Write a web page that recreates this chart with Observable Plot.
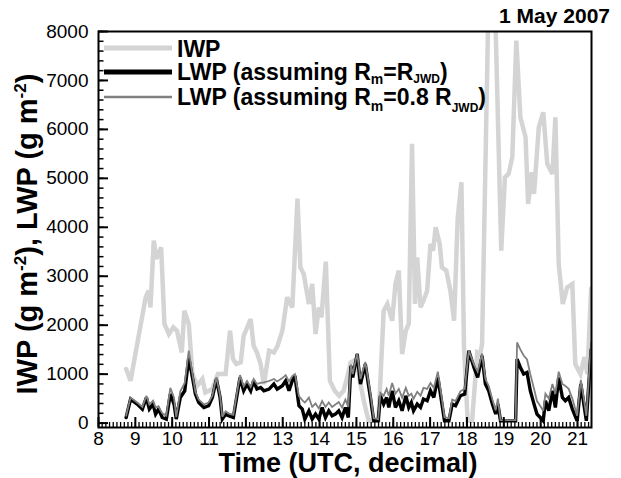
<!DOCTYPE html>
<html>
<head>
<meta charset="utf-8">
<script src="https://cdn.jsdelivr.net/npm/d3@7"></script>
<script src="https://cdn.jsdelivr.net/npm/@observablehq/plot@0.6"></script>
<style>
  html, body { margin: 0; padding: 0; background: #fff; }
  #chart { width: 621px; height: 478px; }
</style>
</head>
<body>
<div id="chart"></div>
<script>
// ---- data ----
const iwpTime = [8.75, 8.87, 9.28, 9.36, 9.41, 9.50, 9.57, 9.70, 9.79, 9.91, 10.03, 10.13, 10.26, 10.33, 10.45, 10.55,
  10.68, 10.82, 10.90, 11.09, 11.24, 11.45, 11.57, 11.65, 11.74, 11.86, 11.94, 12.13, 12.21, 12.30, 12.40, 12.49,
  12.63, 12.76, 12.86, 12.99, 13.12, 13.26, 13.40, 13.48, 13.57, 13.71, 13.80, 13.89, 13.98, 14.05, 14.17, 14.28,
  14.41, 14.53, 14.65, 14.75, 14.84, 14.93, 15.02, 15.11, 15.20, 15.33, 15.60, 15.74, 15.84, 15.97, 16.06, 16.15,
  16.24, 16.34, 16.42, 16.51, 16.59, 16.65, 16.74, 16.82, 16.92, 17.01, 17.08, 17.15, 17.26, 17.32, 17.44, 17.55,
  17.65, 17.75, 17.85, 17.92, 18.02, 18.14, 18.28, 18.36, 18.41, 18.66, 18.93, 19.03, 19.13, 19.23, 19.34, 19.45,
  19.59, 19.66, 19.76, 19.82, 19.95, 20.07, 20.18, 20.32, 20.40, 20.49, 20.60, 20.72, 20.86, 20.94, 21.08, 21.19,
  21.27, 21.37];
const iwpValue = [1104, 865, 2568, 2705, 2363, 3727, 3353, 3590, 2024, 1820, 1955, 1887, 1443, 2296, 2024, 1002,
  763, 900, 626, 695, 1002, 1002, 1887, 1308, 1206, 1239, 1785, 2126, 1580, 1443, 1206, 797,
  1478, 1443, 1580, 1887, 2568, 2363, 4586, 3181, 3046, 2433, 2842, 1820, 2363, 2159, 3300, 865,
  660, 558, 660, 932, 1239, 1274, 1206, 797, 456, 47, 60, 2296, 2433, 2092, 2842, 3114,
  1411, 1887, 2024, 5704, 2433, 3386, 2363, 2500, 2705, 3660, 3523, 3999, 3660, 3181, 3114, 2705,
  2092, 4203, 4919, 1546, 47, 47, 1443, 1411, 1615, 11640, 3523, 5021, 5091, 5430, 7816, 6248,
  5839, 4477, 5124, 4682, 6044, 6350, 5295, 5091, 6248, 3251, 2433, 2772, 2842, 1206, 1002, 1350,
  1000, 2750];

const lwpTime = [8.75, 8.87, 9.05, 9.19, 9.30, 9.38, 9.48, 9.55, 9.63, 9.73, 9.84, 9.95, 10.05, 10.11, 10.22, 10.34,
  10.45, 10.55, 10.63, 10.72, 10.86, 10.99, 11.09, 11.20, 11.30, 11.36, 11.45, 11.53, 11.66, 11.84, 11.94, 12.03,
  12.13, 12.21, 12.30, 12.40, 12.49, 12.63, 12.76, 12.85, 12.99, 13.08, 13.17, 13.26, 13.33, 13.44, 13.53, 13.60,
  13.71, 13.80, 13.89, 13.98, 14.07, 14.16, 14.25, 14.34, 14.43, 14.52, 14.61, 14.70, 14.78, 14.85, 14.90, 15.02,
  15.11, 15.24, 15.38, 15.47, 15.59, 15.65, 15.74, 15.82, 15.88, 15.97, 16.06, 16.15, 16.24, 16.34, 16.42, 16.49,
  16.55, 16.65, 16.74, 16.82, 16.92, 17.01, 17.10, 17.21, 17.28, 17.39, 17.51, 17.60, 17.69, 17.82, 17.94, 18.05,
  18.19, 18.29, 18.41, 18.50, 18.59, 18.69, 18.78, 18.84, 18.91, 19.32, 19.36, 19.45, 19.54, 19.63, 19.72, 19.82,
  19.90, 19.99, 20.07, 20.13, 20.22, 20.32, 20.40, 20.49, 20.59, 20.67, 20.76, 20.86, 20.99, 21.09, 21.16, 21.24,
  21.37];
const lwpJwd = [114, 491, 388, 286, 523, 286, 388, 184, 286, 114, 82, 593, 388, 82, 523, 660,
  1330, 932, 593, 421, 319, 354, 523, 900, 523, 82, 184, 149, 114, 932, 660, 797,
  660, 865, 695, 728, 660, 695, 797, 695, 763, 865, 660, 865, 967, 354, 286, 82,
  251, 82, 184, 82, 319, 114, 251, 149, 184, 251, 114, 319, 114, 1171, 932, 1411,
  797, 1206, 523, 47, 47, 558, 388, 523, 319, 660, 319, 456, 251, 558, 319, 421,
  251, 388, 319, 491, 456, 660, 523, 932, 593, 47, 47, 388, 354, 558, 593, 1478,
  1137, 932, 1376, 797, 660, 388, 184, 388, 47, 47, 1308, 1137, 1002, 1034, 660, 388,
  184, 114, 47, 456, 251, 660, 319, 932, 523, 456, 523, 286, 47, 800, 450, 47,
  1500];
const lwpJwd08 = [150, 520, 420, 330, 560, 380, 460, 320, 340, 200, 150, 720, 520, 120, 650, 820,
  1480, 1000, 640, 480, 380, 420, 560, 940, 560, 130, 240, 200, 170, 980, 750, 860,
  740, 900, 800, 820, 830, 860, 900, 850, 920, 980, 850, 960, 1000, 550, 470, 420,
  520, 330, 400, 300, 450, 330, 420, 330, 380, 430, 320, 480, 330, 1200, 1000, 1430,
  900, 1250, 600, 100, 80, 620, 560, 700, 560, 820, 600, 700, 520, 720, 560, 600,
  500, 640, 560, 720, 700, 820, 720, 1050, 700, 120, 100, 480, 450, 650, 700, 1480,
  1200, 1050, 1420, 900, 760, 480, 260, 500, 60, 60, 1648, 1500, 1380, 1300, 1000, 700,
  450, 350, 250, 600, 500, 800, 600, 1050, 800, 760, 700, 500, 150, 880, 560, 150,
  1650];

const xTicks = [8, 9, 10, 11, 12, 13, 14, 15, 16, 17, 18, 19, 20, 21];
const yTicks = [0, 1000, 2000, 3000, 4000, 5000, 6000, 7000, 8000];
const seriesNames = ["IWP", "LWP (assuming R_m=R_JWD)", "LWP (assuming R_m=0.8 R_JWD)"];

// ---- tables ----
const iwpRows = iwpTime.map((t, i) => ({t, v: iwpValue[i]}));
const lwp1Rows = lwpTime.map((t, i) => ({t, v: lwpJwd[i]}));
const lwp2Rows = lwpTime.map((t, i) => ({t, v: lwpJwd08[i]}));
const xMinor = d3.range(80, 214).map(d => d / 10);
const yMinor = d3.range(0, 8001, 200);

const colIWP = "#d4d4d4", colL1 = "#000000", colL2 = "#808080";
const font = "'Liberation Sans', Arial, Helvetica, sans-serif";

const chart = Plot.plot({
  width: 621,
  height: 478,
  marginLeft: 98,
  marginRight: 30,
  marginTop: 31,
  marginBottom: 51,
  x: {domain: [8, 21.38]},
  y: {domain: [-90, 8000]},
  style: {fontFamily: font, fontSize: "19px", color: "#000", background: "#fff", overflow: "visible"},
  marks: [
    Plot.line(iwpRows, {x: "t", y: "v", stroke: colIWP, strokeWidth: 4.5, strokeLinejoin: "miter", strokeMiterlimit: 3, clip: true}),
    Plot.line(lwp1Rows, {x: "t", y: "v", stroke: colL1, strokeWidth: 3.4, strokeLinejoin: "miter", strokeMiterlimit: 3, clip: true}),
    Plot.line(lwp2Rows, {x: "t", y: "v", stroke: colL2, strokeWidth: 1.8, strokeLinejoin: "miter", strokeMiterlimit: 3, clip: true}),
    Plot.axisY(yMinor, {tickSize: -5.5, text: null, strokeWidth: 1.5, label: null}),
    Plot.axisY(yTicks, {tickSize: -10, text: null, strokeWidth: 2, label: null}),
    Plot.axisY(yTicks, {tickSize: 0, tickPadding: 10, fontSize: 19, label: null, tickFormat: d => String(d)}),
    Plot.axisX(xMinor, {tickSize: -5, text: null, strokeWidth: 1.3, label: null}),
    Plot.axisX(xTicks, {tickSize: -10, text: null, strokeWidth: 2, label: null}),
    Plot.axisX(xTicks, {tickSize: 0, tickPadding: 4, fontSize: 19, label: null, tickFormat: d => String(d)}),
    Plot.frame({stroke: "#000", strokeWidth: 2})
  ]
});
document.getElementById("chart").appendChild(chart);

// ---- annotations: title, axis titles, legend ----
const svg = d3.select(chart);
const bold = (sel) => sel.attr("font-family", font).attr("font-weight", "bold").attr("fill", "#000");

bold(svg.append("text"))
  .attr("x", 610).attr("y", 23).attr("text-anchor", "end").attr("font-size", 21)
  .text("1 May 2007");

bold(svg.append("text"))
  .attr("x", 348).attr("y", 472).attr("text-anchor", "middle").attr("font-size", 27)
  .text("Time (UTC, decimal)");

const yt = bold(svg.append("text"))
  .attr("transform", "translate(37,234) rotate(-90)")
  .attr("text-anchor", "middle").attr("font-size", 29);
yt.append("tspan").text("IWP (g m");
yt.append("tspan").attr("font-size", 17).attr("dy", -11).text("-2");
yt.append("tspan").attr("dy", 11).text("), LWP (g m");
yt.append("tspan").attr("font-size", 17).attr("dy", -11).text("-2");
yt.append("tspan").attr("dy", 11).text(")");

const legend = [
  {y: 48, stroke: colIWP, w: 5},
  {y: 72, stroke: colL1, w: 5},
  {y: 97, stroke: colL2, w: 2.5}
];
legend.forEach((d) => {
  svg.append("line").attr("x1", 104).attr("x2", 172).attr("y1", d.y).attr("y2", d.y)
    .attr("stroke", d.stroke).attr("stroke-width", d.w);
});

bold(svg.append("text")).attr("x", 177).attr("y", 57).attr("font-size", 23)
  .attr("text-anchor", "start").text(seriesNames[0]);

const l2 = bold(svg.append("text")).attr("x", 177).attr("y", 80).attr("font-size", 23).attr("text-anchor", "start");
l2.append("tspan").text("LWP (assuming R");
l2.append("tspan").attr("font-size", 14).attr("dy", 4).text("m");
l2.append("tspan").attr("dy", -4).text("=R");
l2.append("tspan").attr("font-size", 12).attr("dy", 3).text("JWD");
l2.append("tspan").attr("dy", -3).text(")");

const l3 = bold(svg.append("text")).attr("x", 177).attr("y", 105).attr("font-size", 23).attr("text-anchor", "start");
l3.append("tspan").text("LWP (assuming R");
l3.append("tspan").attr("font-size", 14).attr("dy", 6).text("m");
l3.append("tspan").attr("dy", -6).text("=0.8 R");
l3.append("tspan").attr("font-size", 12).attr("dy", 7).text("JWD");
l3.append("tspan").attr("dy", -7).text(")");
</script>
</body>
</html>
